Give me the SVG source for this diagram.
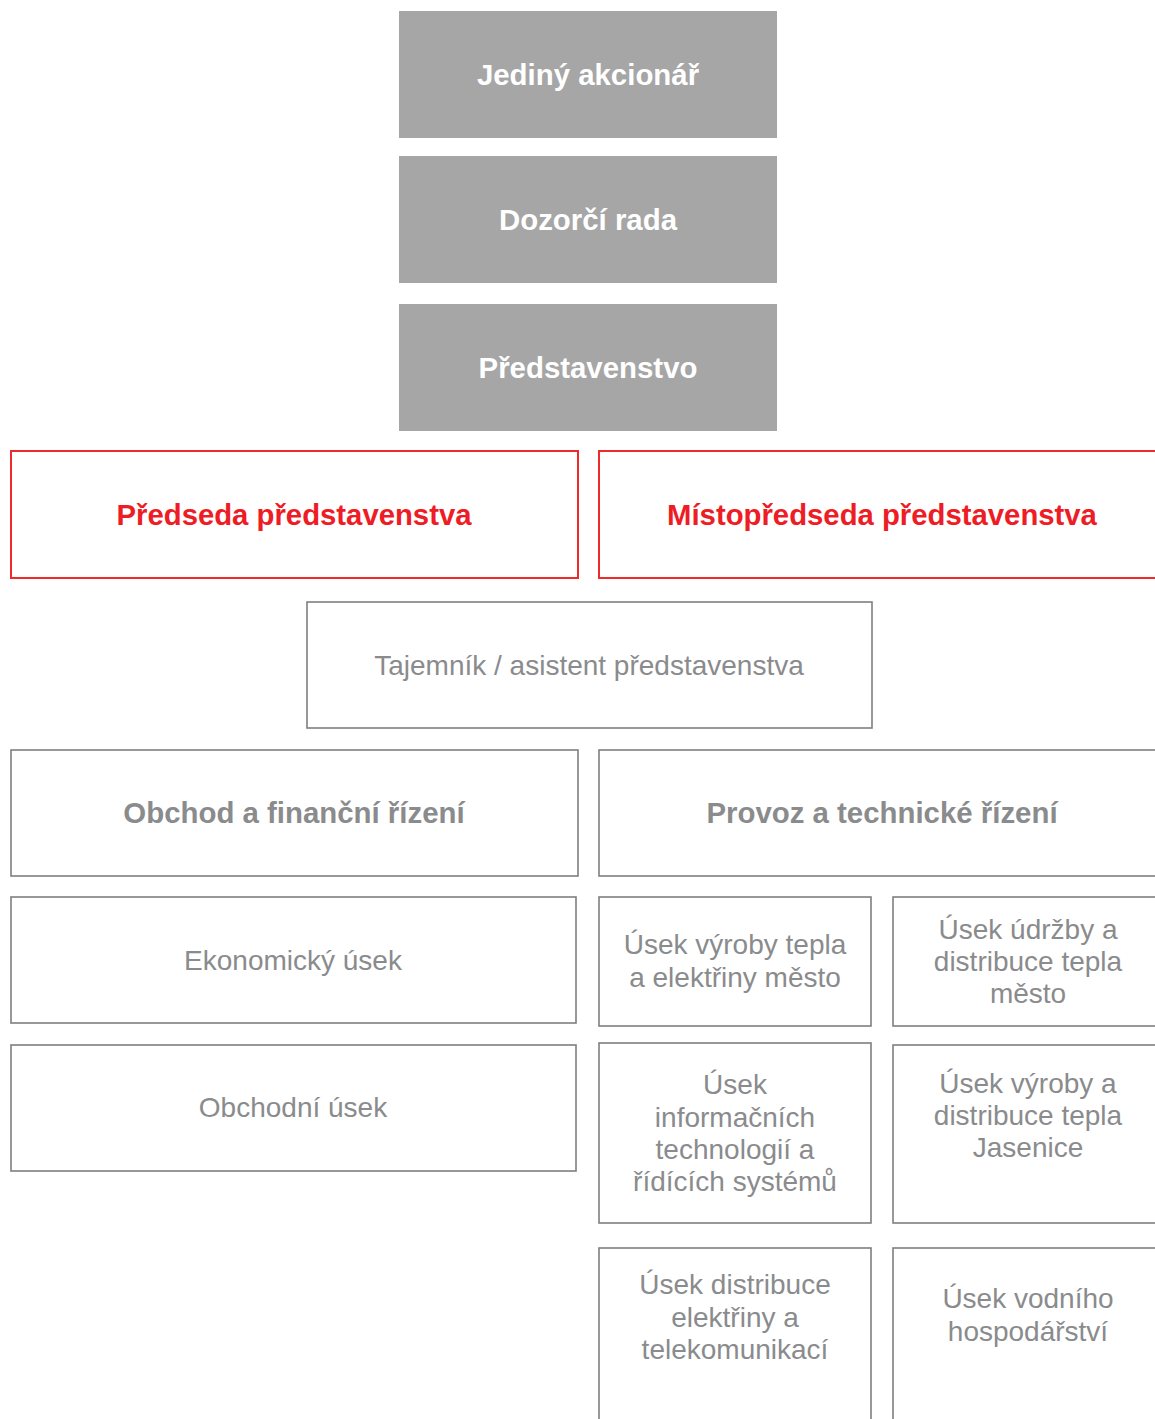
<svg xmlns="http://www.w3.org/2000/svg" width="1155" height="1419" viewBox="0 0 1155 1419">
<style>
.g{fill:#a6a6a6}
.wb{fill:#fff;font-family:"Liberation Sans",Arial,sans-serif;font-weight:bold;font-size:29.4px;text-anchor:middle}
.rb{fill:#fff;stroke:#ee2a2a;stroke-width:2}
.rt{fill:#ee1c25;font-family:"Liberation Sans",Arial,sans-serif;font-weight:bold;font-size:29.3px;text-anchor:middle}
.gb{fill:#fff;stroke:#7f7f7f;stroke-width:1.6}
.gt{fill:#8a8b8d;font-family:"Liberation Sans",Arial,sans-serif;font-size:28px;text-anchor:middle}
.gtb{fill:#8a8b8d;font-family:"Liberation Sans",Arial,sans-serif;font-weight:bold;font-size:29.4px;text-anchor:middle}
</style>
<rect width="1155" height="1419" fill="#fff"/>
<g id="connectors"></g>
<g id="akcionar"><rect class="g" x="399" y="11" width="378" height="127"/><text class="wb" x="588" y="85">Jediný akcionář</text></g>
<g id="dozorci"><rect class="g" x="399" y="156" width="378" height="127"/><text class="wb" x="588" y="230">Dozorčí rada</text></g>
<g id="predstavenstvo"><rect class="g" x="399" y="304" width="378" height="127"/><text class="wb" x="588" y="378">Představenstvo</text></g>
<g id="predseda"><rect class="rb" x="11" y="451" width="567" height="127"/><text class="rt" x="294" y="525">Předseda představenstva</text></g>
<g id="mistopredseda"><rect class="rb" x="599" y="451" width="570" height="127"/><text class="rt" x="882" y="525">Místopředseda představenstva</text></g>
<g id="tajemnik"><rect class="gb" x="307" y="602" width="565" height="126"/><text class="gt" x="589" y="675">Tajemník / asistent představenstva</text></g>
<g id="obchod"><rect class="gb" x="11" y="750" width="567" height="126"/><text class="gtb" x="294" y="823">Obchod a finanční řízení</text></g>
<g id="provoz"><rect class="gb" x="599" y="750" width="570" height="126"/><text class="gtb" x="882" y="823">Provoz a technické řízení</text></g>
<g id="ekonomicky"><rect class="gb" x="11" y="897" width="565" height="126"/><text class="gt" x="293" y="970">Ekonomický úsek</text></g>
<g id="obchodni"><rect class="gb" x="11" y="1045" width="565" height="126"/><text class="gt" x="293" y="1117">Obchodní úsek</text></g>
<g id="vyroby-mesto"><rect class="gb" x="599" y="897" width="272" height="129"/><text class="gt" x="735" y="954">Úsek výroby tepla</text><text class="gt" x="735" y="987">a elektřiny město</text></g>
<g id="udrzby"><rect class="gb" x="893" y="897" width="275" height="129"/><text class="gt" x="1028" y="939">Úsek údržby a</text><text class="gt" x="1028" y="971">distribuce tepla</text><text class="gt" x="1028" y="1003">město</text></g>
<g id="informacnich"><rect class="gb" x="599" y="1043" width="272" height="180"/><text class="gt" x="735" y="1094">Úsek</text><text class="gt" x="735" y="1127">informačních</text><text class="gt" x="735" y="1159">technologií a</text><text class="gt" x="735" y="1191">řídících systémů</text></g>
<g id="jasenice"><rect class="gb" x="893" y="1045" width="275" height="178"/><text class="gt" x="1028" y="1093">Úsek výroby a</text><text class="gt" x="1028" y="1125">distribuce tepla</text><text class="gt" x="1028" y="1157">Jasenice</text></g>
<g id="distribuce"><rect class="gb" x="599" y="1248" width="272" height="190"/><text class="gt" x="735" y="1294">Úsek distribuce</text><text class="gt" x="735" y="1327">elektřiny a</text><text class="gt" x="735" y="1359">telekomunikací</text></g>
<g id="vodni"><rect class="gb" x="893" y="1248" width="275" height="190"/><text class="gt" x="1028" y="1308">Úsek vodního</text><text class="gt" x="1028" y="1341">hospodářství</text></g>
</svg>
